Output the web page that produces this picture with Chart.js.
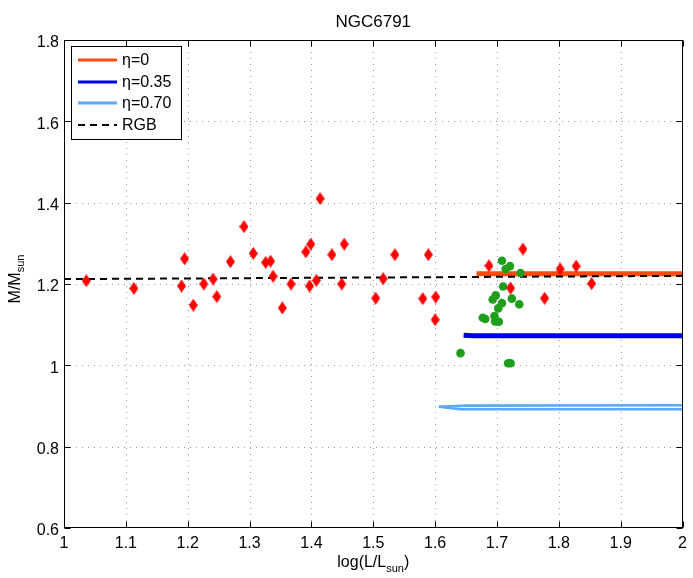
<!DOCTYPE html>
<html>
<head>
<meta charset="utf-8">
<script src="https://cdn.jsdelivr.net/npm/chart.js@4"></script>
<style>
  html, body { margin: 0; padding: 0; background: #fff; }
</style>
</head>
<body>
<canvas id="myChart" width="693" height="578"></canvas>
<script>
const xTicks = [1, 1.1, 1.2, 1.3, 1.4, 1.5, 1.6, 1.7, 1.8, 1.9, 2];
const yTicks = [0.6, 0.8, 1, 1.2, 1.4, 1.6, 1.8];

// red diamonds
const redX = [1.036, 1.113, 1.190, 1.195, 1.209, 1.226, 1.241, 1.247, 1.269, 1.291, 1.306, 1.326, 1.334,
  1.338, 1.353, 1.367, 1.391, 1.399, 1.397, 1.408, 1.414, 1.433, 1.453, 1.449, 1.504, 1.516, 1.535,
  1.580, 1.589, 1.601, 1.600, 1.687, 1.742, 1.722, 1.802, 1.828, 1.853, 1.777];
const redY = [1.208, 1.189, 1.195, 1.262, 1.148, 1.200, 1.212, 1.169, 1.255, 1.341, 1.275, 1.253, 1.256,
  1.219, 1.141, 1.200, 1.279, 1.298, 1.195, 1.209, 1.410, 1.272, 1.298, 1.200, 1.165, 1.213, 1.272,
  1.164, 1.272, 1.168, 1.112, 1.245, 1.286, 1.190, 1.237, 1.244, 1.201, 1.165];

// green circles
const greenX = [1.708, 1.714, 1.721, 1.738, 1.710, 1.698, 1.693, 1.724, 1.708, 1.736, 1.702, 1.677, 1.681,
  1.696, 1.697, 1.703, 1.641, 1.718, 1.722];
const greenY = [1.257, 1.237, 1.244, 1.227, 1.194, 1.172, 1.162, 1.164, 1.153, 1.150, 1.140, 1.117, 1.114,
  1.121, 1.108, 1.107, 1.030, 1.005, 1.005];

// tracks
const rgbX = [1, 1.5, 2];
const rgbY = [1.212, 1.216, 1.220];
const eta0X = [1.667, 2];
const eta0Y = [1.225, 1.225];
const eta35X = [1.646, 1.66, 2];
const eta35Y = [1.074, 1.073, 1.073];
const eta70UpX = [1.606, 1.65, 2];
const eta70UpY = [0.898, 0.901, 0.902];
const eta70LoX = [1.606, 1.64, 2];
const eta70LoY = [0.898, 0.892, 0.892];

const legendLabels = ["\u03b7=0", "\u03b7=0.35", "\u03b7=0.70", "RGB"];

const FONT = "'Liberation Sans', Arial, Helvetica, sans-serif";

const toPoints = (xs, ys) => xs.map((x, i) => ({ x: x, y: ys[i] }));

// tall red diamond marker
const diamond = document.createElement("canvas");
diamond.width = 9;
diamond.height = 13;
(function () {
  const c = diamond.getContext("2d");
  c.fillStyle = "#ff0000";
  c.beginPath();
  c.moveTo(4.5, 0);
  c.lineTo(9, 6.5);
  c.lineTo(4.5, 13);
  c.lineTo(0, 6.5);
  c.closePath();
  c.fill();
})();

const frame = {
  id: "frame",
  beforeDatasetsDraw(chart) {
    const { ctx, chartArea: a, scales } = chart;
    ctx.save();
    ctx.strokeStyle = "#9a9a9a";
    ctx.lineWidth = 1;
    ctx.setLineDash([1, 5]);
    xTicks.forEach(v => {
      const px = Math.round(scales.x.getPixelForValue(v)) + 0.5;
      if (px <= a.left + 1 || px >= a.right - 1) return;
      ctx.beginPath();
      ctx.moveTo(px, a.top);
      ctx.lineTo(px, a.bottom);
      ctx.stroke();
    });
    yTicks.forEach(v => {
      const py = Math.round(scales.y.getPixelForValue(v)) + 0.5;
      if (py <= a.top + 1 || py >= a.bottom - 1) return;
      ctx.beginPath();
      ctx.moveTo(a.left, py);
      ctx.lineTo(a.right, py);
      ctx.stroke();
    });
    ctx.restore();
  },
  afterDraw(chart) {
    const { ctx, chartArea: a, scales } = chart;
    ctx.save();
    ctx.strokeStyle = "#000";
    ctx.lineWidth = 1;
    ctx.setLineDash([]);
    const L = Math.round(a.left) + 0.5, R = Math.round(a.right) - 0.5;
    const T = Math.round(a.top) + 0.5, B = Math.round(a.bottom) - 0.5;
    ctx.strokeRect(L, T, R - L, B - T);
    ctx.beginPath();
    xTicks.forEach(v => {
      const px = Math.round(scales.x.getPixelForValue(v)) + 0.5;
      ctx.moveTo(px, B); ctx.lineTo(px, B - 6);
      ctx.moveTo(px, T); ctx.lineTo(px, T + 6);
    });
    yTicks.forEach(v => {
      const py = Math.round(scales.y.getPixelForValue(v)) + 0.5;
      ctx.moveTo(L, py); ctx.lineTo(L + 6, py);
      ctx.moveTo(R, py); ctx.lineTo(R - 6, py);
    });
    ctx.stroke();

    // legend
    const lx = 71.5, ly = 46.5, lw = 110, lh = 93;
    ctx.fillStyle = "#fff";
    ctx.fillRect(lx, ly, lw, lh);
    ctx.strokeRect(lx, ly, lw, lh);
    const rows = [60, 82, 103, 125];
    const lineDs = [chart.data.datasets[2], chart.data.datasets[3], chart.data.datasets[4], chart.data.datasets[6]];
    ctx.font = "16px " + FONT;
    ctx.textBaseline = "middle";
    ctx.textAlign = "left";
    rows.forEach((ry, i) => {
      const ds = lineDs[i];
      ctx.save();
      ctx.strokeStyle = ds.borderColor;
      ctx.lineWidth = i === 3 ? 2 : 3;
      ctx.setLineDash(ds.borderDash || []);
      ctx.beginPath();
      ctx.moveTo(78, ry);
      ctx.lineTo(117, ry);
      ctx.stroke();
      ctx.restore();
      ctx.fillStyle = "#000";
      ctx.fillText(legendLabels[i], 122, ry + 1);
    });

    // title
    ctx.fillStyle = "#000";
    ctx.textAlign = "center";
    ctx.font = "17px " + FONT;
    ctx.fillText("NGC6791", (a.left + a.right) / 2, 22);

    // x label with subscript
    const mainF = "16px " + FONT, subF = "11px " + FONT;
    ctx.textBaseline = "alphabetic";
    ctx.textAlign = "left";
    ctx.font = mainF; const w1 = ctx.measureText("log(L/L").width;
    ctx.font = subF; const w2 = ctx.measureText("sun").width;
    ctx.font = mainF; const w3 = ctx.measureText(")").width;
    let sx = (a.left + a.right) / 2 - (w1 + w2 + w3) / 2;
    const by = 567;
    ctx.font = mainF; ctx.fillText("log(L/L", sx, by); sx += w1;
    ctx.font = subF; ctx.fillText("sun", sx, by + 5); sx += w2;
    ctx.font = mainF; ctx.fillText(")", sx, by);

    // y label with subscript
    ctx.save();
    ctx.translate(20, 279);
    ctx.rotate(-Math.PI / 2);
    ctx.font = mainF; const m1 = ctx.measureText("M/M").width;
    ctx.font = subF; const m2 = ctx.measureText("sun").width;
    let sy = -(m1 + m2) / 2;
    ctx.font = mainF; ctx.fillText("M/M", sy, 0); sy += m1;
    ctx.font = subF; ctx.fillText("sun", sy, 4);
    ctx.restore();

    ctx.restore();
  }
};

const ctx = document.getElementById("myChart").getContext("2d");
const myChart = new Chart(ctx, {
  type: "scatter",
  data: {
    datasets: [
      {
        label: "stars",
        data: toPoints(redX, redY),
        pointStyle: diamond,
        pointRadius: 5,
        order: 0
      },
      {
        label: "members",
        data: toPoints(greenX, greenY),
        pointStyle: "circle",
        pointRadius: 4.3,
        backgroundColor: "#1f9e1c",
        borderColor: "#1f9e1c",
        borderWidth: 0,
        order: 1
      },
      {
        label: legendLabels[0],
        data: toPoints(eta0X, eta0Y),
        showLine: true,
        borderColor: "#ff4a10",
        borderWidth: 5,
        pointRadius: 0,
        order: 3
      },
      {
        label: legendLabels[1],
        data: toPoints(eta35X, eta35Y),
        showLine: true,
        borderColor: "#0000e6",
        borderWidth: 5,
        pointRadius: 0,
        order: 4
      },
      {
        label: legendLabels[2],
        data: toPoints(eta70UpX, eta70UpY),
        showLine: true,
        borderColor: "#5aa8ff",
        borderWidth: 2.6,
        pointRadius: 0,
        order: 5
      },
      {
        label: legendLabels[2] + " b",
        data: toPoints(eta70LoX, eta70LoY),
        showLine: true,
        borderColor: "#5aa8ff",
        borderWidth: 2.6,
        pointRadius: 0,
        order: 5
      },
      {
        label: legendLabels[3],
        data: toPoints(rgbX, rgbY),
        showLine: true,
        borderColor: "#000",
        borderWidth: 2,
        borderDash: [7, 5],
        pointRadius: 0,
        order: 2
      }
    ]
  },
  options: {
    responsive: false,
    animation: false,
    layout: { padding: { top: 40, right: 10, left: 0, bottom: 0 } },
    plugins: { legend: { display: false }, tooltip: { enabled: false } },
    scales: {
      x: {
        type: "linear",
        min: 1,
        max: 2,
        grid: { display: false, drawTicks: false },
        border: { display: false },
        afterBuildTicks: s => { s.ticks = xTicks.map(v => ({ value: v })); },
        afterFit: s => { s.height = 50; },
        ticks: {
          font: { family: FONT, size: 16 },
          color: "#000",
          padding: 6,
          maxRotation: 0,
          autoSkip: false,
          callback: v => String(v)
        }
      },
      y: {
        type: "linear",
        min: 0.6,
        max: 1.8,
        grid: { display: false, drawTicks: false },
        border: { display: false },
        afterBuildTicks: s => { s.ticks = yTicks.map(v => ({ value: v })); },
        afterFit: s => { s.width = 64; },
        ticks: {
          font: { family: FONT, size: 16 },
          color: "#000",
          padding: 5,
          labelOffset: 3,
          autoSkip: false,
          callback: v => String(v)
        }
      }
    }
  },
  plugins: [frame]
});
</script>
</body>
</html>
